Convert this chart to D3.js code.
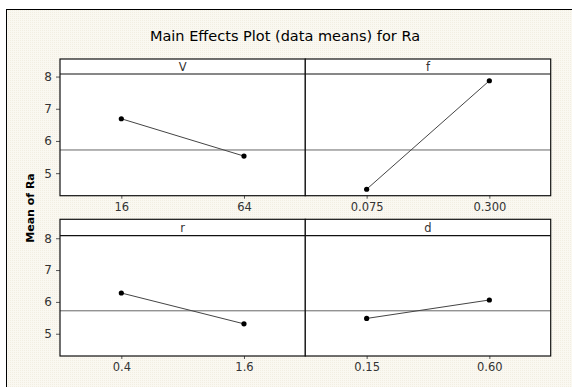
<!DOCTYPE html>
<html><head><meta charset="utf-8">
<script src="https://cdn.jsdelivr.net/npm/d3@7"></script>
<style>html,body{margin:0;padding:0;background:#fff;}svg{display:block;}</style>
</head><body>
<script>
const title = "Main Effects Plot (data means) for Ra";
const yLabel = "Mean of Ra";
const factors = ["V", "f", "r", "d"];
const levels = [["16", "64"], ["0.075", "0.300"], ["0.4", "1.6"], ["0.15", "0.60"]];
const means = [[6.69, 5.53], [4.50, 7.87], [6.28, 5.31], [5.48, 6.06]];
const grandMean = 5.72;
const yTicks = [5, 6, 7, 8];

const W = 572, H = 387;
const svg = d3.select("body").append("svg").attr("width", W).attr("height", H);

const defs = svg.append("defs");
const pat = defs.append("pattern").attr("id", "dots").attr("width", 2).attr("height", 2)
  .attr("patternUnits", "userSpaceOnUse");
pat.append("rect").attr("width", 2).attr("height", 2).attr("fill", "#faf8f1");
pat.append("rect").attr("width", 1).attr("height", 1).attr("fill", "#f2eee2");

svg.append("rect").attr("x", 0).attr("y", 0).attr("width", W).attr("height", H).attr("fill", "#fff");
svg.append("rect").attr("x", 6.5).attr("y", 9.5).attr("width", W + 10).attr("height", H + 10)
  .attr("fill", "url(#dots)").attr("stroke", "#000").attr("stroke-width", 1);

svg.append("text").attr("x", 285).attr("y", 41).attr("text-anchor", "middle")
  .attr("font-family", "DejaVu Sans, Verdana, sans-serif").attr("font-size", 14.5)
  .attr("fill", "#000").text(title);

svg.append("text").attr("transform", "translate(34,208) rotate(-90)").attr("text-anchor", "middle")
  .attr("font-family", "DejaVu Sans, sans-serif").attr("font-size", 11).attr("font-weight", "bold")
  .attr("fill", "#000").text(yLabel);

const colX = [60, 305.3, 550.7];
const rows = [{top: 59, strip: 74, bottom: 195.7}, {top: 219.3, strip: 235.7, bottom: 356}];
const fontTick = "DejaVu Sans, Tahoma, sans-serif";

factors.forEach((fac, i) => {
  const r = rows[Math.floor(i / 2)], c = i % 2;
  const x0 = colX[c], x1 = colX[c + 1];
  const x = d3.scalePoint().domain(levels[i]).range([x0, x1]).padding(0.5);
  const y = d3.scaleLinear().domain([4.3, 8.08]).range([r.bottom, r.strip]);
  const g = svg.append("g");
  g.append("rect").attr("x", x0).attr("y", r.top).attr("width", x1 - x0).attr("height", r.bottom - r.top)
    .attr("fill", "#fff");
  g.append("line").attr("x1", x0).attr("x2", x1).attr("y1", r.strip).attr("y2", r.strip)
    .attr("stroke", "#111").attr("stroke-width", 1.2);
  g.append("text").attr("x", (x0 + x1) / 2).attr("y", r.strip - 3.5).attr("text-anchor", "middle")
    .attr("font-family", fontTick).attr("font-size", 11.5).attr("fill", "#333").text(fac);
  g.append("line").attr("x1", x0).attr("x2", x1).attr("y1", y(grandMean)).attr("y2", y(grandMean))
    .attr("stroke", "#666").attr("stroke-width", 1);
  const pts = levels[i].map((l, k) => [x(l), y(means[i][k])]);
  g.append("path").attr("d", d3.line()(pts)).attr("fill", "none").attr("stroke", "#444").attr("stroke-width", 1);
  g.selectAll("circle").data(pts).join("circle").attr("cx", d => d[0]).attr("cy", d => d[1])
    .attr("r", 2.6).attr("fill", "#000");
  const xa = g.append("g").attr("transform", `translate(0,${r.bottom})`)
    .call(d3.axisBottom(x).tickSize(3).tickPadding(4));
  xa.select(".domain").remove();
  xa.selectAll("line").attr("stroke", "#555");
  xa.selectAll("text").attr("font-family", fontTick).attr("font-size", 11.5).attr("fill", "#333");
  if (c === 0) {
    const ya = g.append("g").attr("transform", `translate(${x0},0)`)
      .call(d3.axisLeft(y).tickValues(yTicks).tickFormat(d3.format("d")).tickSize(4).tickPadding(4));
    ya.select(".domain").remove();
    ya.selectAll("line").attr("stroke", "#555");
    ya.selectAll("text").attr("font-family", fontTick).attr("font-size", 12).attr("fill", "#333");
  }
  g.append("rect").attr("x", x0).attr("y", r.top).attr("width", x1 - x0).attr("height", r.bottom - r.top)
    .attr("fill", "none").attr("stroke", "#111").attr("stroke-width", 1.2);
});
</script>
</body></html>
